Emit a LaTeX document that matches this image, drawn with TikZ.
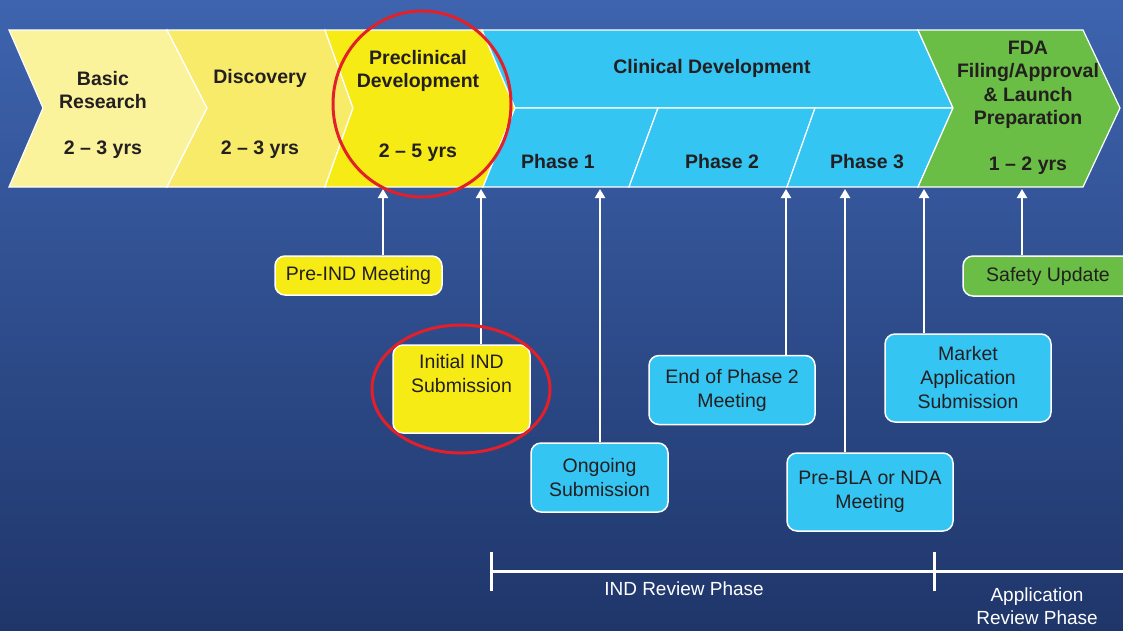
\documentclass[tikz,border=0pt]{standalone}
\usepackage{fontspec}
\setmainfont{Liberation Sans}
\usetikzlibrary{arrows.meta,shapes.geometric}
\definecolor{bgtop}{HTML}{3E64AF}
\definecolor{bgbot}{HTML}{1F366A}
\definecolor{ylA}{HTML}{FBF39B}
\definecolor{ylB}{HTML}{F8EB6A}
\definecolor{ylC}{HTML}{F6EB14}
\definecolor{cyanC}{HTML}{34C5F3}
\definecolor{grn}{HTML}{6ABD45}
\definecolor{ink}{HTML}{231F20}
\definecolor{redc}{HTML}{E3202A}
\begin{document}
\begin{tikzpicture}[x=1pt,y=-1pt,
  seg/.style={draw=white, line width=1.2pt, line join=miter},
  ttl/.style={font=\fontsize{19.5}{23.5}\selectfont\bfseries, text=ink, align=center, inner sep=0pt},
  box/.style={draw=white, line width=1.5pt, rounded corners=10pt, text=ink, align=center, font=\fontsize{19.5}{24}\selectfont, inner sep=0pt},
  link/.style={draw=white, line width=2pt, -{Triangle[width=10pt,length=9pt]}},
  ring/.style={draw=redc, line width=3pt, ellipse, inner sep=0pt},
  bar/.style={draw=white, line width=3pt},
  note/.style={text=white, align=center, font=\fontsize{19}{23}\selectfont, inner sep=0pt}]
\useasboundingbox (0,0) rectangle (1123,630);
\begin{scope}
\clip (0,0) rectangle (1123,630);
\shade[top color=bgtop, bottom color=bgbot] (0,0) rectangle (1123,630);
% chevrons
\path[seg, fill=ylA] (9,30) -- (167,30) -- (207,108) -- (167,187) -- (9,187) -- (43,108) -- cycle;
\path[seg, fill=ylB] (167,30) -- (325,30) -- (353,108) -- (325,187) -- (167,187) -- (207,108) -- cycle;
\path[seg, fill=ylC] (325,30) -- (482,30) -- (515,108) -- (483,187) -- (325,187) -- (353,108) -- cycle;
\path[seg, fill=cyanC] (482,30) -- (918,30) -- (953,108) -- (515,108) -- cycle;
\path[seg, fill=cyanC] (515,108) -- (658,108) -- (629,187) -- (483,187) -- cycle;
\path[seg, fill=cyanC] (658,108) -- (815,108) -- (787,187) -- (629,187) -- cycle;
\path[seg, fill=cyanC] (815,108) -- (953,108) -- (918,187) -- (787,187) -- cycle;
\path[seg, fill=grn] (918,30) -- (1083,30) -- (1120,108) -- (1083,187) -- (918,187) -- (953,108) -- cycle;
% chevron texts
\node[ttl] (basic) at (103,90) {Basic\\Research};
\node[ttl] (basicyr) at (103,150) {2 -- 3 yrs};
\node[ttl] (disc) at (260,78) {Discovery};
\node[ttl] (discyr) at (260,150) {2 -- 3 yrs};
\node[ttl] (precl) at (418,71) {Preclinical\\Development};
\node[ttl] (preclyr) at (418,153) {2 -- 5 yrs};
\node[ttl] (clin) at (712,68) {Clinical Development};
\node[ttl] (ph1) at (558,162) {Phase 1};
\node[ttl] (ph2) at (722,162) {Phase 2};
\node[ttl] (ph3) at (867,162) {Phase 3};
\node[ttl] (fda) at (1028,85) {FDA\\Filing/Approval\\\&~Launch\\Preparation};
\node[ttl] (fdayr) at (1028,166) {1 -- 2 yrs};
% boxes
\node[box, fill=ylC, minimum width=167, minimum height=39] (preind) at (358.5,275.5) {Pre-IND Meeting};
\node[box, fill=ylC, minimum width=137, minimum height=88] (initind) at (461.5,389) {Initial IND\\Submission\\\strut};
\node[box, fill=cyanC, minimum width=137, minimum height=69] (ongo) at (599.5,477.5) {Ongoing\\Submission};
\node[box, fill=cyanC, minimum width=166, minimum height=69] (eop2) at (732,390) {End of Phase 2\\Meeting};
\node[box, fill=cyanC, minimum width=166, minimum height=78] (prebla) at (870,492) {Pre-BLA or NDA\\Meeting};
\node[box, fill=cyanC, minimum width=166, minimum height=88] (market) at (968,378) {Market\\Application\\Submission};
\node[box, fill=grn, minimum width=170, minimum height=40] (safety) at (1048,276) {Safety Update};
% targets on chevron band
\coordinate (t1) at (383,189);
\coordinate (t2) at (481,189);
\coordinate (t3) at (600,189);
\coordinate (t4) at (786,189);
\coordinate (t5) at (845,189);
\coordinate (t6) at (924,189);
\coordinate (t7) at (1022,189);
\draw[link] (preind.north -| t1) -- (t1);
\draw[link] (initind.north -| t2) -- (t2);
\draw[link] (ongo.north -| t3) -- (t3);
\draw[link] (eop2.north -| t4) -- (t4);
\draw[link] (prebla.north -| t5) -- (t5);
\draw[link] (market.north -| t6) -- (t6);
\draw[link] (safety.north -| t7) -- (t7);
% red highlights
\node[ring, minimum width=178, minimum height=186] (ring1) at (422,104) {};
\node[ring, minimum width=178, minimum height=128] (ring2) at (461,389) {};
% review phases
\coordinate (b0) at (491,571);
\coordinate (b1) at (934,571);
\coordinate (b2) at (1123,571);
\draw[bar] (b0) -- (b2);
\draw[bar] ([yshift=-20pt]b0) -- ([yshift=19pt]b0);
\draw[bar] ([yshift=-20pt]b1) -- ([yshift=19pt]b1);
\node[note] (indrev) at (684,589) {IND Review Phase};
\node[note] (apprev) at (1037,606) {Application\\Review Phase};
\end{scope}
\end{tikzpicture}
\end{document}
